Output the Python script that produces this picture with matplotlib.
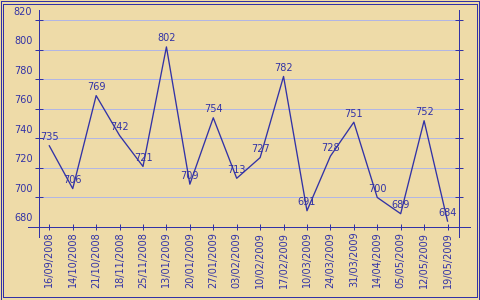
import matplotlib
matplotlib.use('Agg')
import matplotlib.pyplot as plt
from matplotlib.patches import Rectangle

dates = ['16/09/2008', '14/10/2008', '21/10/2008', '18/11/2008', '25/11/2008',
         '13/01/2009', '20/01/2009', '27/01/2009', '03/02/2009', '10/02/2009',
         '17/02/2009', '10/03/2009', '24/03/2009', '31/03/2009', '14/04/2009',
         '05/05/2009', '12/05/2009', '19/05/2009']
values = [735, 706, 769, 742, 721, 802, 709, 754, 713, 727,
          782, 691, 728, 751, 700, 689, 752, 684]
yticks = [680, 700, 720, 740, 760, 780, 800, 820]

blue = '#3232a6'
grid_col = '#b2b6e4'
bg = '#eedba8'

plt.rcParams['font.family'] = 'DejaVu Sans'
plt.rcParams['font.size'] = 7

fig = plt.figure(figsize=(4.8, 3.0), dpi=100, facecolor=bg)
W, H = 480.0, 300.0
ax = fig.add_axes([39 / W, 1 - 227 / H, 420 / W, 217 / H])
ax.set_facecolor('none')

x = list(range(len(dates)))
ax.plot(x, values, color=blue, lw=0.95, zorder=3)
for xi, v in zip(x, values):
    ax.annotate(str(v), xy=(xi, v), xytext=(0, 2.5), textcoords='offset points',
                ha='center', va='bottom', color=blue, fontsize=7, zorder=4)

ax.set_xlim(-0.44, 17.49)
ax.set_ylim(680, 827)

for s in ax.spines.values():
    s.set_visible(False)

ax.set_yticks(yticks)
ax.set_yticklabels([])
ax.yaxis.grid(True, color=grid_col, lw=0.72)
ax.set_axisbelow(True)
ax.tick_params(axis='y', direction='inout', length=5.8, width=0.72, color=blue,
               left=True, right=True, labelleft=False)
for t in yticks:
    ax.annotate(str(t), xy=(0, t), xycoords=('axes fraction', 'data'),
                xytext=(-4.8, 2.6), textcoords='offset points',
                ha='right', va='bottom', color=blue, fontsize=7)

ax.set_xticks(x)
ax.set_xticklabels(dates, rotation=90, color=blue, fontsize=7)
ax.tick_params(axis='x', direction='inout', length=5, width=0.72, color=blue, pad=1)

# axis lines extending beyond the plot area
kw = dict(color=blue, lw=0.72, transform=ax.transAxes, clip_on=False, antialiased=False)
ax.plot([0, 0], [-10 / 217, 1], **kw)
ax.plot([1, 1], [-10 / 217, 1], **kw)
ax.plot([-11 / 420, 1 + 11 / 420], [0, 0], **kw)

# double frame
fig.patches.append(Rectangle((0.5 / W, 0.5 / H), 1 - 1.5 / W, 1 - 1.5 / H, fill=False,
                             ec=blue, lw=0.72, antialiased=False, transform=fig.transFigure))
fig.patches.append(Rectangle((3 / W, 3 / H), 1 - 6.5 / W, 1 - 6.5 / H, fill=False,
                             ec=blue, lw=0.72, antialiased=False, transform=fig.transFigure))

fig.savefig('out.png', dpi=100, facecolor=bg)
